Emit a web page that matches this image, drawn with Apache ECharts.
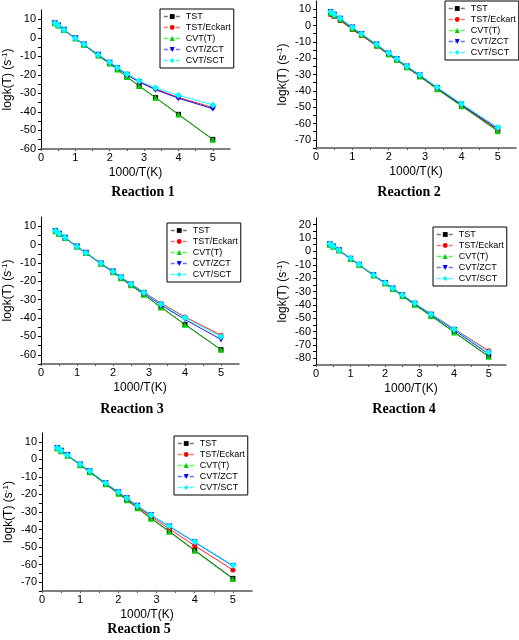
<!DOCTYPE html>
<html><head><meta charset="utf-8">
<script src="https://cdn.jsdelivr.net/npm/echarts@6/dist/echarts.min.js"></script>
<style>html,body{margin:0;padding:0;background:#fff}#c{width:519px;height:640px}</style>
</head><body><div id="c"></div>
<script>
// 1000/T values (K^-1 x 1000)
const xVals = [0.4, 0.5, 0.667, 1.0, 1.25, 1.667, 2.0, 2.222, 2.5, 2.857, 3.333, 4.0, 5.0];
const seriesNames = ['TST', 'TST/Eckart', 'CVT(T)', 'CVT/ZCT', 'CVT/SCT'];
const panelTitles = ['Reaction 1', 'Reaction 2', 'Reaction 3', 'Reaction 4', 'Reaction 5'];
const xTickLabels = ['0', '1', '2', '3', '4', '5'];

// Reaction 1
const r1_TST    = [7.8, 6.6, 4.2, -0.4, -3.8, -9.6, -13.9, -17.1, -21.1, -26.0, -32.3, -41.3, -54.8];
const r1_Eckart = [7.9, 6.7, 4.3, -0.3, -3.6, -9.2, -13.4, -16.4, -19.8, -23.7, -27.6, -32.2, -37.6];
const r1_CVT    = [7.8, 6.6, 4.2, -0.4, -3.8, -9.6, -13.9, -17.1, -21.1, -26.0, -32.4, -41.4, -55.0];
const r1_ZCT    = [7.9, 6.7, 4.3, -0.3, -3.6, -9.2, -13.4, -16.4, -19.9, -23.9, -28.0, -32.6, -38.3];
const r1_SCT    = [8.0, 6.8, 4.4, -0.2, -3.5, -9.1, -13.2, -16.1, -19.5, -23.2, -27.0, -31.0, -36.2];
// Reaction 2
const r2_TST    = [7.2, 5.8, 3.4, -2.3, -5.9, -12.4, -17.8, -21.0, -25.7, -31.2, -38.9, -49.0, -64.3];
const r2_Eckart = [6.8, 5.5, 3.1, -2.5, -6.1, -12.5, -17.9, -21.1, -25.8, -31.1, -38.8, -48.8, -64.0];
const r2_CVT    = [7.6, 6.2, 3.8, -1.8, -5.5, -12.2, -17.6, -21.0, -25.6, -31.2, -39.1, -49.4, -64.8];
const r2_ZCT    = [8.2, 6.6, 4.2, -1.3, -5.2, -11.7, -17.1, -20.5, -25.1, -30.5, -38.2, -48.4, -63.2];
const r2_SCT    = [8.4, 6.8, 4.4, -1.1, -5.0, -11.5, -16.9, -20.3, -24.9, -30.2, -37.8, -47.9, -62.4];
// Reaction 3
const r3_TST    = [7.3, 5.8, 3.6, -1.2, -4.6, -10.5, -15.0, -18.3, -22.2, -27.2, -34.1, -43.5, -57.2];
const r3_Eckart = [7.4, 5.9, 3.7, -1.1, -4.4, -10.2, -14.6, -17.7, -21.4, -25.9, -31.9, -39.4, -49.3];
const r3_CVT    = [7.3, 5.8, 3.6, -1.2, -4.6, -10.5, -15.0, -18.3, -22.2, -27.3, -34.2, -43.6, -57.3];
const r3_ZCT    = [7.4, 5.9, 3.7, -1.1, -4.5, -10.3, -14.7, -17.9, -21.7, -26.4, -32.9, -40.8, -51.6];
const r3_SCT    = [7.5, 6.0, 3.8, -1.0, -4.4, -10.2, -14.6, -17.7, -21.5, -26.1, -32.3, -39.8, -50.1];
// Reaction 4
const r4_TST    = [5.3, 3.6, 0.7, -5.5, -10.0, -18.0, -23.9, -28.0, -33.2, -39.8, -48.2, -60.3, -78.6];
const r4_Eckart = [5.5, 3.8, 0.9, -5.3, -9.8, -17.7, -23.5, -27.5, -32.6, -38.8, -46.8, -58.0, -74.4];
const r4_CVT    = [5.0, 3.4, 0.6, -5.6, -10.1, -18.1, -24.0, -28.2, -33.4, -40.0, -48.4, -60.6, -78.9];
const r4_ZCT    = [5.4, 3.7, 0.8, -5.4, -9.9, -17.8, -23.6, -27.7, -32.8, -39.2, -47.4, -58.8, -76.9];
const r4_SCT    = [5.7, 3.9, 1.0, -5.2, -9.7, -17.6, -23.4, -27.5, -32.6, -38.8, -47.0, -58.2, -75.4];
// Reaction 5
const r5_TST    = [6.2, 4.7, 2.2, -3.2, -7.2, -14.1, -19.5, -23.1, -27.7, -33.6, -41.0, -51.8, -67.8];
const r5_Eckart = [6.3, 4.8, 2.3, -3.0, -7.0, -13.8, -19.0, -22.5, -27.0, -32.6, -39.6, -49.2, -63.0];
const r5_CVT    = [6.1, 4.6, 2.1, -3.3, -7.3, -14.2, -19.6, -23.3, -27.9, -33.8, -41.3, -52.1, -68.2];
const r5_ZCT    = [6.5, 4.9, 2.4, -2.9, -6.8, -13.6, -18.7, -22.2, -26.5, -31.8, -38.2, -47.2, -60.7];
const r5_SCT    = [6.6, 5.0, 2.5, -2.8, -6.7, -13.5, -18.6, -22.1, -26.4, -31.7, -38.0, -46.9, -60.4];

// y-axis ranges per panel
const yMins = [-60, -75, -65, -85, -75];
const yMaxs = [15, 15, 15, 25, 15];

const panelData = [
  [r1_TST, r1_Eckart, r1_CVT, r1_ZCT, r1_SCT],
  [r2_TST, r2_Eckart, r2_CVT, r2_ZCT, r2_SCT],
  [r3_TST, r3_Eckart, r3_CVT, r3_ZCT, r3_SCT],
  [r4_TST, r4_Eckart, r4_CVT, r4_ZCT, r4_SCT],
  [r5_TST, r5_Eckart, r5_CVT, r5_ZCT, r5_SCT]
];

// layout (positions/styles)
const grids = [
  {left: 41, top: 10, width: 189, height: 139},
  {left: 316, top: 1, width: 200, height: 147},
  {left: 41, top: 217, width: 198, height: 147},
  {left: 316, top: 218, width: 190, height: 147},
  {left: 42, top: 433, width: 210, height: 158}
];
const legendPos = [
  {left: 160, top: 9}, {left: 445, top: 1}, {left: 167, top: 223}, {left: 433, top: 227}, {left: 174, top: 436}
];
const titlePos = [[143, 192], [409, 192], [132, 409], [404, 409], [139, 629]];
const styles = [
  {color: '#000000', legendLine: '#777777', symbol: 'rect', size: 5, rot: 0},
  {color: '#ff0000', legendLine: '#ff7070', symbol: 'circle', size: 5, rot: 0},
  {color: '#00d000', legendLine: '#50ff50', symbol: 'triangle', size: 6, rot: 0},
  {color: '#0000ff', legendLine: '#7070ff', symbol: 'triangle', size: 6, rot: 180},
  {color: '#00ffff', legendLine: '#40ffff', symbol: 'diamond', size: 7, rot: 0}
];

const font = 'Liberation Sans, Arial, sans-serif';
const option = {
  animation: false,
  backgroundColor: '#ffffff',
  grid: grids.map(g => Object.assign({containLabel: false}, g)),
  xAxis: [], yAxis: [], series: [], legend: [], graphic: []
};

for (let p = 0; p < 5; p++) {
  option.xAxis.push({
    type: 'value', gridIndex: p, min: 0, max: 5.5, interval: 0.5,
    name: '1000/T(K)', nameLocation: 'middle', nameGap: 18,
    nameTextStyle: {fontFamily: font, fontSize: 12, color: '#000'},
    axisLine: {onZero: false, lineStyle: {color: '#555', width: 1.5}},
    axisTick: {show: true, length: 2, lineStyle: {color: '#555'}},
    axisLabel: {fontFamily: font, fontSize: 11, color: '#000', margin: 3, showMaxLabel: false,
      formatter: v => (Math.abs(v - Math.round(v)) < 1e-6 ? xTickLabels[Math.round(v)] : '')},
    splitLine: {show: false}
  });
  option.yAxis.push({
    type: 'value', gridIndex: p, min: yMins[p], max: yMaxs[p], interval: 5,
    name: '{a|logk(T) (s}{s|-1}{a|)}', nameLocation: 'middle', nameGap: 26, nameRotate: 90,
    nameTextStyle: {rich: {a: {fontFamily: font, fontSize: 12, color: '#000'}, s: {fontFamily: font, fontSize: 8, color: '#000', verticalAlign: 'top', padding: [0, 0, 6, 0]}}},
    axisLine: {onZero: false, lineStyle: {color: '#000', width: 1}},
    axisTick: {show: true, length: 3, lineStyle: {color: '#000'}},
    axisLabel: {fontFamily: font, fontSize: 11, color: '#000', margin: 5, showMaxLabel: false,
      formatter: v => (v % 10 === 0 ? String(v) : '')},
    splitLine: {show: false}
  });
  for (let s = 0; s < 5; s++) {
    const st = styles[s];
    option.series.push({
      type: 'line', name: seriesNames[s], xAxisIndex: p, yAxisIndex: p,
      data: xVals.map((x, i) => [x, panelData[p][s][i]]),
      symbol: st.symbol, symbolSize: st.size, symbolRotate: st.rot,
      itemStyle: {color: st.color},
      lineStyle: {color: st.color, width: 0.9, type: 'solid'},
      z: 2 + s
    });
  }
  option.legend.push({
    data: seriesNames.map((n, s) => ({name: n, lineStyle: {color: styles[s].legendLine, type: [4, 2], width: 1.5}})),
    orient: 'vertical',
    left: legendPos[p].left, top: legendPos[p].top,
    itemWidth: 17, itemHeight: 6, itemGap: 2, padding: [3, 3, 3, 3],
    borderColor: '#000', borderWidth: 1, backgroundColor: '#fff',
    textStyle: {fontFamily: font, fontSize: 9, color: '#000'},
    selectedMode: false
  });
  option.graphic.push({
    type: 'text', x: titlePos[p][0], y: titlePos[p][1],
    style: {text: panelTitles[p], textAlign: 'center', textVerticalAlign: 'middle',
      font: 'bold 14px "Liberation Serif", "Times New Roman", serif', fill: '#000'}
  });
}

const chart = echarts.init(document.getElementById('c'), null, {renderer: 'canvas'});
chart.setOption(option);
</script>
</body></html>
